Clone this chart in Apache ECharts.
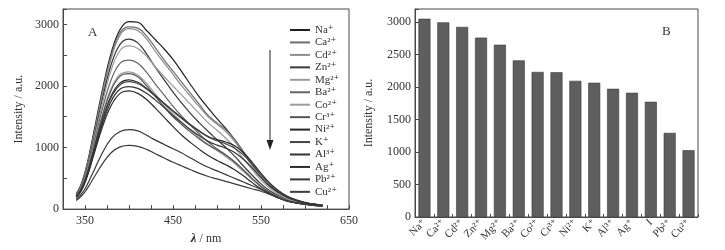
<!DOCTYPE html>
<html>
<head>
<meta charset="utf-8">
<script src="https://cdn.jsdelivr.net/npm/echarts@6/dist/echarts.min.js"></script>
<style>
  html, body { margin: 0; padding: 0; background: #fff; }
  #main { width: 725px; height: 250px; }
</style>
</head>
<body>
<div id="main"></div>
<script>
// wavelength (nm) sampled along the spectra
var wavelengths = [340, 345, 350, 355, 360, 370, 380, 390, 400, 410, 420, 430, 440, 450, 460, 470, 480, 490, 500, 510, 520, 530, 540, 550, 560, 570, 580, 590, 600, 610, 620];

var ionNames = ["Na⁺", "Ca²⁺", "Cd²⁺", "Zn²⁺", "Mg²⁺", "Ba²⁺", "Co²⁺", "Cr³⁺", "Ni²⁺", "K⁺", "Al³⁺", "Ag⁺", "Pb²⁺", "Cu²⁺"];
var ionColors = ["#1e1e1e", "#6e6e6e", "#8c8c8c", "#3a3a3a", "#9a9a9a", "#666666", "#9c9c9c", "#555555", "#262626", "#444444", "#333333", "#2c2c2c", "#363636", "#3c3c3c"];

// fluorescence spectra, one array per ion
var naSpec = [250, 380, 600, 900, 1250, 1950, 2550, 2920, 3045, 3035, 2900, 2750, 2600, 2430, 2230, 2020, 1820, 1640, 1470, 1310, 1130, 930, 720, 530, 380, 270, 190, 140, 100, 80, 60];
var caSpec = [240, 360, 570, 870, 1200, 1900, 2500, 2870, 2960, 2940, 2810, 2620, 2420, 2240, 2060, 1880, 1700, 1520, 1400, 1290, 1130, 930, 720, 530, 380, 270, 190, 140, 100, 80, 60];
var cdSpec = [230, 350, 560, 850, 1180, 1870, 2460, 2830, 2930, 2900, 2760, 2560, 2370, 2190, 2000, 1830, 1660, 1500, 1380, 1260, 1100, 900, 700, 520, 370, 260, 180, 130, 100, 80, 60];
var znSpec = [230, 340, 540, 820, 1140, 1800, 2360, 2680, 2760, 2700, 2520, 2300, 2100, 1900, 1720, 1550, 1400, 1260, 1130, 1000, 860, 700, 550, 410, 300, 220, 160, 120, 90, 70, 50];
var mgSpec = [220, 330, 520, 790, 1100, 1730, 2270, 2580, 2650, 2610, 2480, 2310, 2150, 2000, 1850, 1700, 1550, 1400, 1280, 1150, 1000, 820, 640, 470, 340, 240, 170, 120, 90, 70, 50];
var baSpec = [220, 320, 500, 760, 1050, 1640, 2110, 2370, 2420, 2370, 2220, 2030, 1850, 1670, 1510, 1360, 1220, 1090, 980, 880, 760, 620, 490, 370, 270, 200, 140, 110, 80, 60, 50];
var coSpec = [210, 310, 480, 720, 1000, 1550, 1970, 2190, 2230, 2180, 2040, 1870, 1700, 1550, 1410, 1280, 1160, 1050, 950, 850, 740, 610, 480, 360, 260, 190, 140, 100, 80, 60, 50];
var crSpec = [210, 300, 470, 710, 980, 1520, 1940, 2160, 2200, 2150, 2000, 1830, 1660, 1500, 1370, 1250, 1140, 1040, 960, 880, 770, 640, 500, 370, 270, 190, 140, 100, 80, 60, 50];
var niSpec = [200, 300, 460, 690, 950, 1460, 1850, 2050, 2100, 2060, 1960, 1840, 1720, 1600, 1480, 1370, 1270, 1180, 1130, 1090, 1030, 920, 760, 580, 420, 300, 210, 150, 110, 80, 60];
var kSpec = [200, 290, 450, 680, 930, 1430, 1820, 2020, 2070, 2040, 1950, 1830, 1710, 1590, 1470, 1360, 1260, 1170, 1110, 1060, 990, 880, 730, 560, 410, 290, 200, 140, 100, 80, 60];
var alSpec = [200, 290, 440, 660, 910, 1390, 1760, 1950, 1990, 1960, 1880, 1770, 1650, 1520, 1400, 1290, 1190, 1100, 1040, 990, 920, 810, 670, 510, 370, 270, 190, 140, 100, 80, 60];
var agSpec = [190, 280, 430, 640, 880, 1340, 1690, 1880, 1920, 1880, 1780, 1640, 1490, 1340, 1200, 1080, 970, 870, 790, 720, 640, 540, 430, 330, 250, 180, 130, 100, 80, 60, 50];
var pbSpec = [160, 230, 330, 470, 620, 920, 1150, 1260, 1290, 1270, 1200, 1120, 1050, 980, 910, 830, 750, 680, 620, 560, 500, 440, 380, 320, 250, 180, 130, 100, 80, 60, 50];
var cuSpec = [140, 200, 280, 390, 510, 740, 920, 1010, 1035, 1020, 970, 900, 830, 760, 700, 640, 580, 530, 490, 450, 410, 370, 330, 290, 240, 180, 130, 100, 80, 60, 50];
var spectra = [naSpec, caSpec, cdSpec, znSpec, mgSpec, baSpec, coSpec, crSpec, niSpec, kSpec, alSpec, agSpec, pbSpec, cuSpec];

// panel B: peak intensity per ion
var barNames = ["Na⁺", "Ca²⁺", "Cd²⁺", "Zn²⁺", "Mg²⁺", "Ba²⁺", "Co²⁺", "Cr³⁺", "Ni²⁺", "K⁺", "Al³⁺", "Ag⁺", "I", "Pb²⁺", "Cu²⁺"];
var barValues = [3050, 2995, 2925, 2760, 2650, 2410, 2232, 2228, 2095, 2065, 1972, 1911, 1772, 1294, 1028];

var font = "'Liberation Serif', 'DejaVu Serif', serif";
var textColor = "#333";
var frameColor = "#4a4a4a";

var myChart = echarts.init(document.getElementById("main"));

var lineSeries = [];
for (var i = 0; i < ionNames.length; i++) {
  var pts = [];
  for (var j = 0; j < wavelengths.length; j++) {
    pts.push([wavelengths[j], spectra[i][j]]);
  }
  lineSeries.push({
    name: ionNames[i],
    type: "line",
    xAxisIndex: 0,
    yAxisIndex: 0,
    smooth: 0.4,
    showSymbol: false,
    lineStyle: { color: ionColors[i], width: 1.2 },
    itemStyle: { color: ionColors[i] },
    data: pts,
  });
}

var axisCommon = {
  axisLine: { show: true, lineStyle: { color: frameColor, width: 1 } },
  axisTick: { show: true, inside: true, length: 4, lineStyle: { color: frameColor } },
  splitLine: { show: false },
  axisLabel: { color: textColor, fontFamily: font, fontSize: 12 },
  nameTextStyle: { color: textColor, fontFamily: font, fontSize: 12 },
};

var option = {
  animation: false,
  backgroundColor: "#fff",
  grid: [
    { left: 63, top: 9, width: 286, height: 208, show: true, borderColor: frameColor, borderWidth: 1 },
    { left: 415, top: 9, width: 283, height: 208, show: true, borderColor: frameColor, borderWidth: 1 },
  ],
  legend: {
    data: ionNames,
    orient: "vertical",
    left: 285,
    top: 19,
    icon: "rect",
    itemWidth: 20,
    itemHeight: 2,
    itemGap: 0.45,
    textStyle: { color: textColor, fontFamily: font, fontSize: 11, lineHeight: 12 },
  },
  xAxis: [
    Object.assign({}, axisCommon, {
      gridIndex: 0,
      type: "value",
      min: 325,
      max: 650,
      interval: 25,
      name: "{l|λ} / nm",
      nameLocation: "middle",
      nameGap: 22,
      nameTextStyle: {
        color: textColor, fontFamily: font, fontSize: 12,
        rich: { l: { fontFamily: font, fontSize: 13, fontStyle: "italic", fontWeight: "bold", color: textColor } },
      },
      axisLabel: {
        color: textColor, fontFamily: font, fontSize: 12, margin: 6,
        formatter: function (v) { return (v - 350) % 100 === 0 ? v : ""; },
      },
    }),
    Object.assign({}, axisCommon, {
      gridIndex: 1,
      type: "category",
      data: barNames,
      axisTick: { show: true, inside: true, length: 3, lineStyle: { color: frameColor } },
      axisLabel: { color: textColor, fontFamily: font, fontSize: 11, rotate: 45, margin: 4, interval: 0 },
    }),
  ],
  yAxis: [
    Object.assign({}, axisCommon, {
      gridIndex: 0,
      type: "value",
      min: 0,
      max: 3250,
      interval: 500,
      name: "Intensity / a.u.",
      nameLocation: "middle",
      nameGap: 38,
      axisLabel: {
        color: textColor, fontFamily: font, fontSize: 12, margin: 4,
        formatter: function (v) { return v % 1000 === 0 ? v : ""; },
      },
    }),
    Object.assign({}, axisCommon, {
      gridIndex: 1,
      type: "value",
      min: 0,
      max: 3200,
      interval: 500,
      name: "Intensity / a.u.",
      nameLocation: "middle",
      nameGap: 40,
      axisLabel: {
        color: textColor, fontFamily: font, fontSize: 12, margin: 4,
        formatter: function (v) { return v % 500 === 0 ? v : ""; },
      },
    }),
  ],
  graphic: [
    { type: "text", left: 88, top: 26, style: { text: "A", font: "13px " + font, fill: textColor } },
    { type: "text", left: 662, top: 25, style: { text: "B", font: "13px " + font, fill: textColor } },
    { type: "line", shape: { x1: 270, y1: 50, x2: 270, y2: 142 }, style: { stroke: "#222", lineWidth: 1 } },
    { type: "polygon", shape: { points: [[266.5, 140], [273.5, 140], [270, 150]] }, style: { fill: "#222" } },
  ],
  series: lineSeries.concat([
    {
      name: "peak",
      type: "bar",
      xAxisIndex: 1,
      yAxisIndex: 1,
      barWidth: 12,
      itemStyle: { color: "#5e5e5e", borderColor: "#3a3a3a", borderWidth: 0.6 },
      data: barValues,
    },
  ]),
};

option && myChart.setOption(option);
</script>
</body>
</html>
